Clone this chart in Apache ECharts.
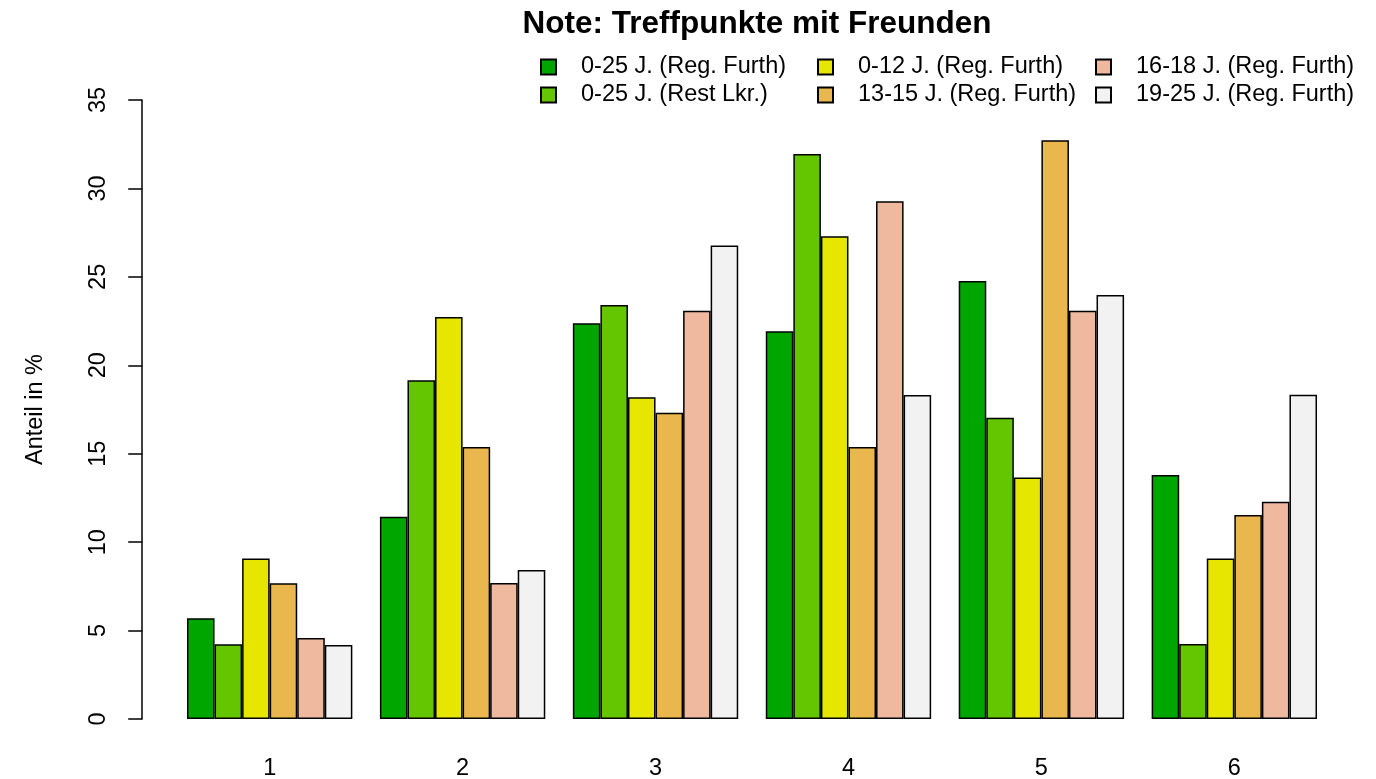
<!DOCTYPE html>
<html>
<head>
<meta charset="utf-8">
<script src="https://cdn.jsdelivr.net/npm/echarts@6/dist/echarts.min.js"></script>
<style>
  html, body { margin: 0; padding: 0; background: #fff; }
  #chart { width: 1376px; height: 779px; }
</style>
</head>
<body>
<div id="chart"></div>
<script>
const categories = ["1", "2", "3", "4", "5", "6"];
const seriesNames = [
  "0-25 J. (Reg. Furth)",
  "0-25 J. (Rest Lkr.)",
  "0-12 J. (Reg. Furth)",
  "13-15 J. (Reg. Furth)",
  "16-18 J. (Reg. Furth)",
  "19-25 J. (Reg. Furth)",
];
const regFurth = [5.69, 11.44, 22.37, 21.92, 24.77, 13.8];
const restLkr = [4.22, 19.15, 23.41, 31.95, 17.04, 4.24];
const age0to12 = [9.07, 22.73, 18.19, 27.29, 13.65, 9.07];
const age13to15 = [7.67, 15.38, 17.32, 15.38, 32.72, 11.53];
const age16to18 = [4.58, 7.69, 23.09, 29.27, 23.09, 12.29];
const age19to25 = [4.18, 8.42, 26.78, 18.32, 23.97, 18.34];
const yTicks = [0, 5, 10, 15, 20, 25, 30, 35];

const values = [regFurth, restLkr, age0to12, age13to15, age16to18, age19to25];
const colors = ["#00A600", "#63C600", "#E6E600", "#EAB64E", "#EEB99F", "#F2F2F2"];
const font = "Liberation Sans, Arial, Helvetica, sans-serif";

const chart = echarts.init(document.getElementById("chart"));

// legend in 3 columns, 2 rows (column-major like R)
const legendCols = [540, 817, 1095];
const legends = legendCols.map((left, i) => ({
  orient: "vertical",
  left: left,
  top: 55,
  padding: 0,
  itemWidth: 15,
  itemHeight: 15,
  itemGap: 4,
  icon: "rect",
  data: seriesNames.slice(i * 2, i * 2 + 2),
  textStyle: {
    fontFamily: font,
    fontSize: 23.5,
    color: "#000",
    lineHeight: 23,
    padding: [0, 0, 0, 20],
  },
  selectedMode: false,
}));

chart.setOption({
  animation: false,
  backgroundColor: "#fff",
  title: {
    text: "Note: Treffpunkte mit Freunden",
    left: 752,
    top: 3,
    textAlign: "center",
    textStyle: { fontFamily: font, fontSize: 31.5, fontWeight: "bold", color: "#000" },
  },
  legend: legends,
  grid: {
    left: 173.2, right: 45.2, top: 100, bottom: 60,
    containLabel: false, outerBoundsMode: "none",
  },
  xAxis: {
    type: "category",
    data: categories,
    axisLine: { show: false },
    axisTick: { show: false },
    axisLabel: { fontFamily: font, fontSize: 23.5, color: "#000", margin: 38 },
  },
  yAxis: {
    type: "value",
    min: yTicks[0],
    max: yTicks[yTicks.length - 1],
    interval: 5,
    offset: 31,
    name: "Anteil in %",
    nameLocation: "middle",
    nameRotate: 90,
    nameGap: 95,
    nameTextStyle: { fontFamily: font, fontSize: 23.5, color: "#000" },
    splitLine: { show: false },
    axisLine: { show: true, lineStyle: { color: "#000", width: 1.5 } },
    axisTick: { show: true, length: 14, lineStyle: { color: "#000", width: 1.5 } },
    axisLabel: { fontFamily: font, fontSize: 23.5, color: "#000", rotate: 90, margin: 32 },
  },
  series: seriesNames.map((name, i) => ({
    name: name,
    type: "bar",
    data: values[i],
    barGap: "0%",
    barCategoryGap: "14.2857%",
    itemStyle: { color: colors[i], borderColor: "#000", borderWidth: 1.5 },
  })),
});
</script>
</body>
</html>
